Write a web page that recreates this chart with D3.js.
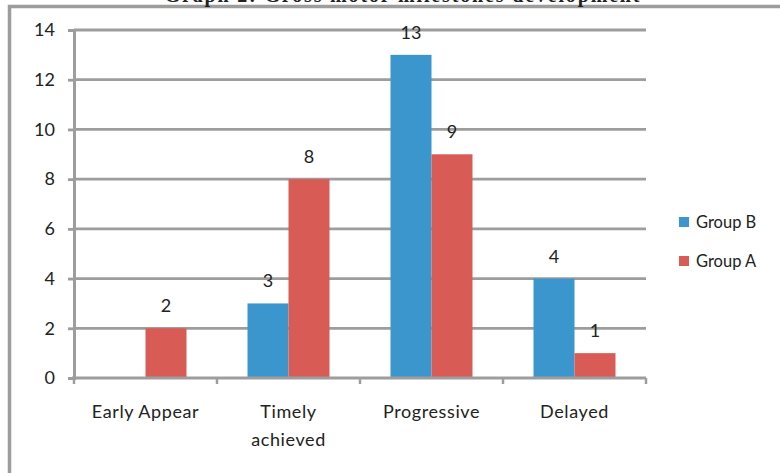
<!DOCTYPE html>
<html>
<head>
<meta charset="utf-8">
<script src="https://cdn.jsdelivr.net/npm/d3@7/dist/d3.min.js"></script>
<style>
  html, body { margin: 0; padding: 0; background: #fff; }
  svg { display: block; }
  text { font-family: Lato, "Open Sans", sans-serif; fill: #222; }
</style>
</head>
<body>
<svg id="chart" width="780" height="473"></svg>
<script>
// Gross motor milestone counts per group
const categories = ["Early Appear", "Timely\nachieved", "Progressive", "Delayed"];
const seriesNames = ["Group B", "Group A"];
const groupB = [0, 3, 13, 4];
const groupA = [2, 8, 9, 1];
const yTicks = [0, 2, 4, 6, 8, 10, 12, 14];
const colors = ["#3A96CD", "#D95B55"];
const title = "Graph 2: Gross motor milestones development";

const svg = d3.select("#chart");
const gridColor = "#9d9d9d";

// Outer frame (runs off the right and bottom edges)
svg.append("rect")
  .attr("x", 9.5).attr("y", 6.5)
  .attr("width", 800).attr("height", 500)
  .attr("fill", "none").attr("stroke", gridColor).attr("stroke-width", 3.5);

// Title, mostly above the frame
svg.append("text")
  .attr("x", 402).attr("y", 1.5)
  .attr("text-anchor", "middle")
  .attr("textLength", 475)
  .style("font-family", "'Liberation Serif', 'Times New Roman', serif")
  .style("font-weight", "bold")
  .style("font-size", "20px")
  .text(title);

const x0 = 74, x1 = 646, yBottom = 378, yTop = 30;

const x = d3.scaleBand().domain(categories).range([x0, x1]).paddingInner(0).paddingOuter(0);
const xs = d3.scaleBand().domain(seriesNames).range([0, x.bandwidth()]).paddingInner(0).paddingOuter(0.744);
const y = d3.scaleLinear().domain([0, 14]).range([yBottom, yTop]);

// Horizontal gridlines
svg.append("g").selectAll("line").data(yTicks.filter(d => d > 0)).join("line")
  .attr("x1", x0).attr("x2", x1)
  .attr("y1", d => y(d)).attr("y2", d => y(d))
  .attr("stroke", gridColor).attr("stroke-width", 2.8);

// Y axis
const yAxis = svg.append("g").attr("transform", `translate(${x0},0)`)
  .call(d3.axisLeft(y).tickValues(yTicks).tickSize(6).tickPadding(13));
yAxis.select(".domain").attr("stroke", gridColor).attr("stroke-width", 3);
yAxis.selectAll(".tick line").attr("stroke", gridColor).attr("stroke-width", 2.8);
yAxis.selectAll(".tick text")
  .style("font-family", "Lato, sans-serif").style("font-size", "18px").attr("fill", "#222");

// Bars
const data = categories.map((c, i) => ({ cat: c, values: [groupB[i], groupA[i]] }));
const groups = svg.append("g").selectAll("g").data(data).join("g")
  .attr("transform", d => `translate(${x(d.cat)},0)`);

groups.selectAll("rect")
  .data(d => d.values.map((v, k) => ({ key: seriesNames[k], v, k })).filter(e => e.v > 0))
  .join("rect")
  .attr("x", e => xs(e.key))
  .attr("width", xs.bandwidth())
  .attr("y", e => y(e.v))
  .attr("height", e => y(0) - y(e.v))
  .attr("fill", e => colors[e.k]);

// Value labels
groups.selectAll("text.val")
  .data(d => d.values.map((v, k) => ({ key: seriesNames[k], v, k })).filter(e => e.v > 0))
  .join("text")
  .attr("class", "val")
  .attr("x", e => xs(e.key) + xs.bandwidth() / 2)
  .attr("y", e => y(e.v) - 16)
  .attr("text-anchor", "middle")
  .style("font-size", "18px")
  .text(e => e.v);

// X axis line and category separators
const xAxis = svg.append("g").attr("transform", `translate(0,${yBottom})`);
xAxis.append("line").attr("x1", x0 - 2).attr("x2", x1)
  .attr("stroke", gridColor).attr("stroke-width", 3);
const bounds = categories.map(c => x(c)).concat([x1]);
xAxis.selectAll("line.sep").data(bounds).join("line")
  .attr("class", "sep")
  .attr("x1", d => d).attr("x2", d => d)
  .attr("y1", 0).attr("y2", 6)
  .attr("stroke", gridColor).attr("stroke-width", 2.5);

// Category labels (multi-line)
const catLabels = xAxis.selectAll("text.cat").data(categories).join("text")
  .attr("class", "cat")
  .attr("text-anchor", "middle")
  .attr("transform", d => `translate(${x(d) + x.bandwidth() / 2},40)`)
  .style("font-size", "18px")
  .style("letter-spacing", "0.6px");
catLabels.each(function(d) {
  d3.select(this).selectAll("tspan").data(d.split("\n")).join("tspan")
    .attr("x", 0).attr("dy", (t, i) => i === 0 ? 0 : 28).text(t => t);
});

// Legend
const legend = svg.append("g").attr("transform", "translate(679,217)");
const li = legend.selectAll("g").data(seriesNames).join("g")
  .attr("transform", (d, i) => `translate(0,${i * 39})`);
li.append("rect").attr("width", 10).attr("height", 10).attr("fill", (d, i) => colors[i]);
li.append("text").attr("x", 17).attr("y", 11).style("font-size", "16.5px").text(d => d);
</script>
</body>
</html>
